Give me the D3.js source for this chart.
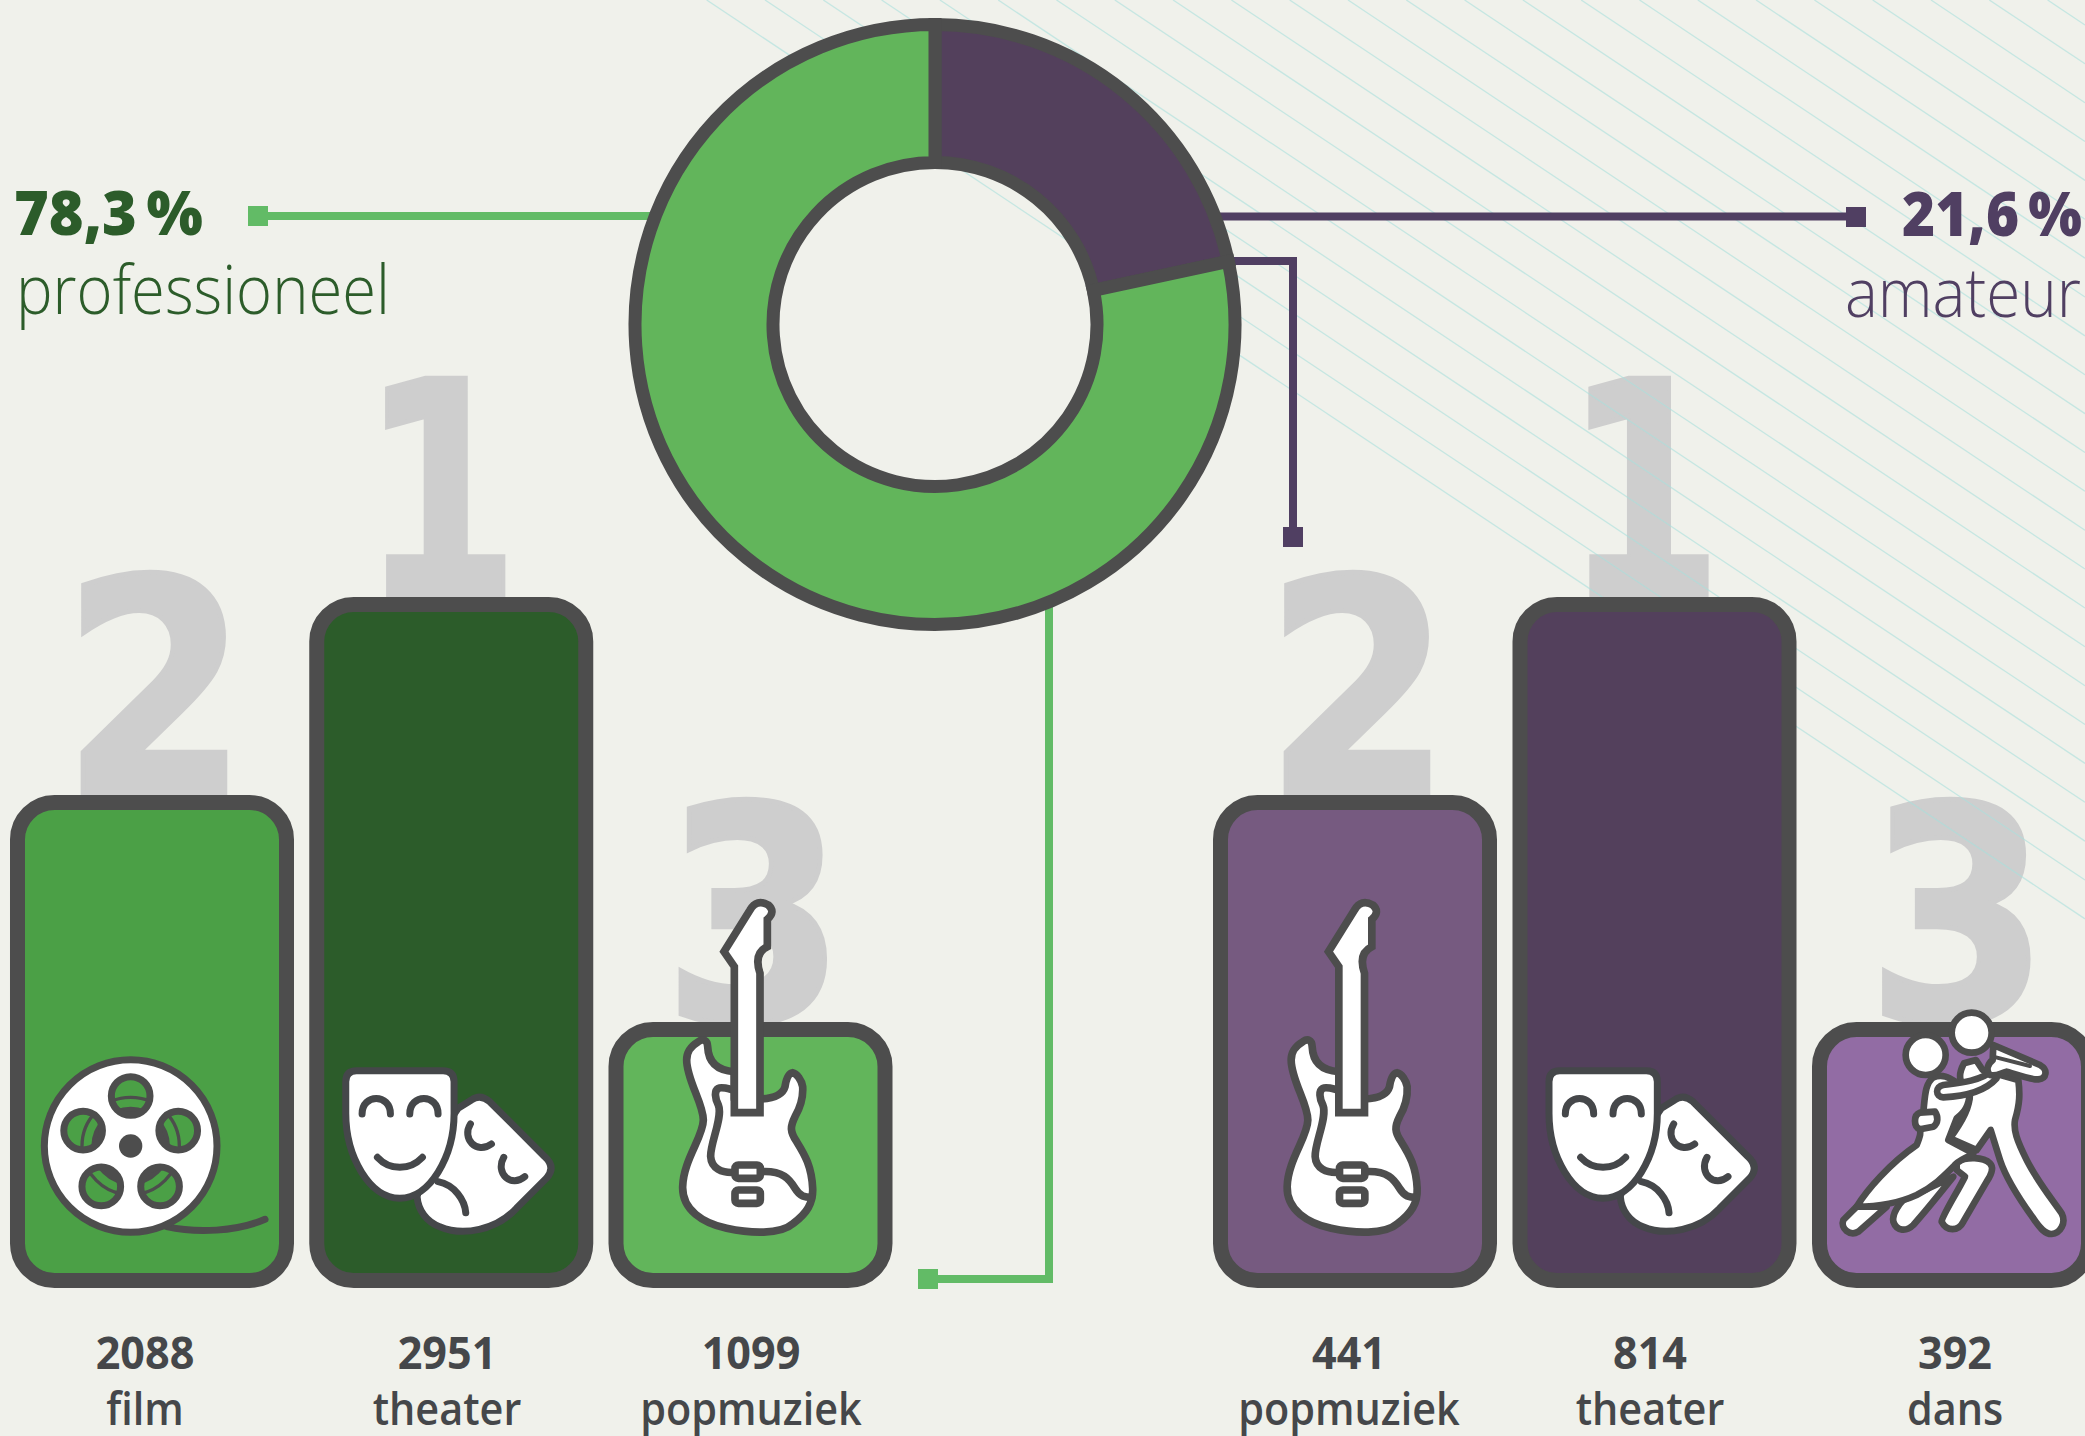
<!DOCTYPE html>
<html>
<head>
<meta charset="utf-8">
<script src="https://cdn.jsdelivr.net/npm/d3@7"></script>
<style>
  html, body { margin: 0; padding: 0; background: #f0f1eb; overflow: hidden; }
  text { font-family: "Open Sans", "Noto Sans", sans-serif; }
</style>
</head>
<body>
<div id="chart"></div>
<script>
// data
const shareNames = ["amateur", "professioneel"];
const shareValues = [21.6, 78.3];
const shareLabels = ["21,6 %", "78,3 %"];
const shareColors = ["#53405c", "#62b55b"];

const profCategories = ["film", "theater", "popmuziek"];
const profCounts = [2088, 2951, 1099];
const profRanks = [2, 1, 3];
const profColors = ["#4ba046", "#2c5c2a", "#62b55b"];

const amCategories = ["popmuziek", "theater", "dans"];
const amCounts = [441, 814, 392];
const amRanks = [2, 1, 3];
const amColors = ["#765a80", "#53405c", "#926ca4"];

const width = 2085;
const height = 1436;
const dark = "#4d4d4d";
const textDark = "#45474a";
const numeralGrey = "#cecece";
const profDark = "#2c5c2a";
const amDark = "#503f62";
const profLine = "#62bb66";
const amLine = "#503f62";

const svg = d3.select("#chart").append("svg")
  .attr("width", width).attr("height", height)
  .attr("viewBox", [0, 0, width, height])
  .style("display", "block");

svg.append("rect").attr("width", width).attr("height", height).attr("fill", "#f0f1eb");

// scales
const barBottom = 1280.5;
const barWidth = 269;
const xProf = d3.scalePoint().domain(d3.range(3)).range([152, 750.5]);
const xAm = d3.scalePoint().domain(d3.range(3)).range([1355, 1954]);
const yRank = d3.scaleOrdinal().domain([1, 2, 3]).range([604.5, 802.5, 1029.5]);
const numeralDx = d3.scaleOrdinal().domain([1, 2, 3]).range([-11, 3, 4]);
const numeralSx = d3.scaleOrdinal().domain([1, 2, 3]).range([0.76, 0.9, 0.88]);

const bars = [
  ...profCategories.map((c, i) => ({ cat: c, count: profCounts[i], rank: profRanks[i], color: profColors[i], x: xProf(i) })),
  ...amCategories.map((c, i) => ({ cat: c, count: amCounts[i], rank: amRanks[i], color: amColors[i], x: xAm(i) })),
];
const labelX = d3.scaleOrdinal().domain(d3.range(6)).range([145, 447, 751, 1349, 1650, 1955]);

// big rank numerals sit behind the bars
svg.append("g").selectAll("text").data(bars).enter().append("text")
  .attr("transform", (d) => `translate(${d.x + numeralDx(d.rank)},${yRank(d.rank) - 9}) scale(${numeralSx(d.rank)},1)`)
  .attr("text-anchor", "middle")
  .attr("font-size", 298)
  .attr("font-weight", 700)
  .attr("fill", numeralGrey)
  .attr("stroke", numeralGrey).attr("stroke-width", 5)
  .style("font-family", "'DejaVu Sans'")
  .text((d) => d.rank);

// thin diagonal hatch in the top right
const hatchStart = d3.range(706.7, width, 58.3);
svg.append("g").selectAll("line").data(hatchStart).enter().append("line")
  .attr("x1", (d) => d).attr("y1", 0)
  .attr("x2", width).attr("y2", (d) => (width - d) / 1.5)
  .attr("stroke", "#a9e0dc").attr("stroke-opacity", 0.6).attr("stroke-width", 1.3);

// leader lines
const cx = 935;
const cy = 324.5;
const leaders = svg.append("g").attr("fill", "none").attr("stroke-width", 8);
leaders.append("path").attr("stroke", profLine).attr("d", `M264,216H${cx - 280}`);
leaders.append("path").attr("stroke", amLine).attr("d", `M${cx + 270},216.5H1850`);
leaders.append("path").attr("stroke", amLine).attr("d", `M${cx + 280},261H1293V532`);
leaders.append("path").attr("stroke", profLine).attr("d", `M1049,${cy + 270}V1279H930`);
const ends = [
  [248, 206, 20, 20, profLine],
  [1846, 207, 20, 20, amLine],
  [1283, 527, 20, 20, amLine],
  [918, 1269, 20, 20, profLine],
];
svg.append("g").selectAll("rect").data(ends).enter().append("rect")
  .attr("x", (d) => d[0]).attr("y", (d) => d[1])
  .attr("width", (d) => d[2]).attr("height", (d) => d[3])
  .attr("fill", (d) => d[4]);

// donut
const pie = d3.pie().sort(null)(shareValues);
const arc = d3.arc().innerRadius(162).outerRadius(300);
svg.append("g").attr("transform", `translate(${cx},${cy})`)
  .selectAll("path").data(pie).enter().append("path")
  .attr("d", arc)
  .attr("fill", (d, i) => shareColors[i])
  .attr("stroke", dark).attr("stroke-width", 13);

// bars
svg.append("g").selectAll("rect").data(bars).enter().append("rect")
  .attr("x", (d) => d.x - barWidth / 2)
  .attr("y", (d) => yRank(d.rank))
  .attr("width", barWidth)
  .attr("height", (d) => barBottom - yRank(d.rank))
  .attr("rx", 37).attr("ry", 37)
  .attr("fill", (d) => d.color)
  .attr("stroke", dark).attr("stroke-width", 15);

// icons, paths are in 3x crop units hence the scale
function iconGroup(d, dx, dy, sw) {
  return svg.append("g")
    .attr("transform", `translate(${d.x + dx},${barBottom + dy}) scale(${1 / 3})`)
    .attr("stroke", dark).attr("stroke-width", sw)
    .attr("stroke-linejoin", "round").attr("stroke-linecap", "round");
}

function drawReel(d) {
  const g = iconGroup(d, -122, -230.5, 21);
  g.append("path").attr("fill", "none")
    .attr("d", "M410,530C500,550,620,545,705,508");
  g.append("circle").attr("cx", 302).attr("cy", 288).attr("r", 259).attr("fill", "#fff");
  g.append("circle").attr("cx", 302).attr("cy", 288).attr("r", 35).attr("fill", dark).attr("stroke", "none");
  d3.range(5).forEach((k) => {
    const a = (k * 72 * Math.PI) / 180;
    const hx = 302 + 150 * Math.sin(a);
    const hy = 288 - 150 * Math.cos(a);
    const id = "reelhole" + k;
    g.append("clipPath").attr("id", id).append("circle").attr("cx", hx).attr("cy", hy).attr("r", 58);
    g.append("circle").attr("cx", hx).attr("cy", hy).attr("r", 58).attr("fill", d.color).attr("stroke", "none");
    const clip = g.append("g").attr("clip-path", `url(#${id})`);
    clip.append("circle").attr("cx", 302).attr("cy", 288).attr("r", 146).attr("fill", "none").attr("stroke-width", 10);
    clip.append("circle").attr("cx", 302).attr("cy", 288).attr("r", 118).attr("fill", dark).attr("stroke", "none");
    g.append("circle").attr("cx", hx).attr("cy", hy).attr("r", 58).attr("fill", "none");
  });
}

function drawMasks(d) {
  const g = iconGroup(d, -121.5, -230.5, 21).attr("stroke", textDark);
  g.append("path").attr("fill", "#fff")
    .attr("d", "M385,175L425,150Q452,130,480,155L645,320Q680,352,650,385L560,475C500,540,400,560,330,530C290,515,265,480,262,440L300,300Z");
  g.append("path").attr("fill", "none").attr("d", "M325,395C375,405,405,450,408,488");
  g.append("path").attr("fill", "none").attr("d", "M422,222C395,265,440,315,485,282");
  g.append("path").attr("fill", "none").attr("d", "M522,322C495,370,545,415,585,380");
  g.append("path").attr("fill", "#fff")
    .attr("d", "M80,62H340Q373,62,373,95V190C373,320,300,445,210,445C120,445,48,320,48,190V95Q48,62,80,62Z");
  g.append("path").attr("fill", "none").attr("d", "M97,192C97,130,182,130,182,192");
  g.append("path").attr("fill", "none").attr("d", "M240,192C240,130,325,130,325,192");
  g.append("path").attr("fill", "none").attr("d", "M143,322C180,362,240,362,278,322");
}

function drawGuitar(d) {
  const g = iconGroup(d, -110.5, -420.5, 23);
  g.append("path").attr("fill", "#fff")
    .attr("d", "M283,635C235,632,205,610,203,560C202,540,190,535,175,545C150,560,140,575,140,600C140,660,190,730,190,780C190,830,130,900,128,980C126,1050,190,1090,260,1105C330,1120,420,1125,460,1090C500,1060,520,1030,518,985C515,920,495,885,470,845C450,815,450,800,465,770C485,735,490,710,488,680C485,660,470,640,458,638C445,640,438,660,435,680C428,705,400,715,360,717L283,717Z");
  g.append("path").attr("fill", "none")
    .attr("d", "M283,690C260,685,245,680,235,685C222,692,225,715,235,735C250,770,210,850,212,890C214,925,245,940,285,937M360,935C430,930,450,960,465,985C480,1010,495,1012,515,1012");
  g.append("path").attr("fill", "#fff").attr("stroke-linejoin", "miter")
    .attr("d", "M283,758V320L252,275L330,150Q350,115,385,135Q408,155,382,178V260Q340,280,360,340V758Z");
  g.selectAll("rect.pickup").data([915, 990]).enter().append("rect")
    .attr("x", 285).attr("y", (y) => y).attr("width", 76).attr("height", 40).attr("rx", 10)
    .attr("fill", "#fff");
}

function drawDance(d) {
  const g = iconGroup(d, -154, -300.5, 20);
  const shapes = [
    // back foot and legs of the woman
    "M260,680L175,755C150,770,120,745,130,720L170,680Z",
    "M460,590C420,640,380,690,340,735C320,755,290,755,280,725C275,700,300,670,310,660Z",
    "M470,545C500,530,550,530,570,550C585,565,570,590,560,605L490,725C475,755,440,755,425,725C425,710,470,640,495,590L470,570Z",
    // man
    "M492,250L528,240L548,270L655,300C660,340,660,370,645,420C640,450,650,480,680,540C710,600,750,650,785,700C800,730,780,760,755,762C735,762,720,745,700,715C660,660,620,600,600,540L572,450L530,510L450,475C490,420,510,380,510,340C480,310,470,290,492,250Z",
    // woman
    "M400,292C430,280,450,295,475,310L510,340C505,380,495,395,470,415L445,480L520,520C500,535,475,540,460,560C430,590,400,620,350,645C300,668,230,680,170,680C200,630,270,550,350,495C360,470,365,455,358,440L370,395C375,350,375,310,400,292Z",
    // arms and hand
    "M430,315C470,310,540,305,580,270L590,295C550,340,480,350,430,352C405,350,405,320,430,315Z",
    "M360,398L405,395C415,410,415,430,400,440L360,448C340,440,340,405,360,398Z",
    "M580,195L720,255C745,270,740,295,715,298C690,300,640,280,620,275C600,280,590,290,570,285C555,270,565,250,578,240Z",
  ];
  g.selectAll("path.shape").data(shapes).enter().append("path").attr("fill", "#fff").attr("d", (s) => s);
  g.append("path").attr("fill", "none").attr("stroke-width", 12).attr("d", "M588,232L690,258");
  g.append("circle").attr("cx", 377).attr("cy", 225).attr("r", 60).attr("fill", "#fff");
  g.append("circle").attr("cx", 515).attr("cy", 158).attr("r", 60).attr("fill", "#fff");
}

const icons = { film: drawReel, theater: drawMasks, popmuziek: drawGuitar, dans: drawDance };
bars.forEach((d) => icons[d.cat](d));

// count and category labels, squeezed a little like the original face
svg.append("g").selectAll("text").data(bars).enter().append("text")
  .attr("transform", (d, i) => `translate(${labelX(i)},1369) scale(0.98,1)`)
  .attr("text-anchor", "middle").attr("font-size", 44).attr("font-weight", 700)
  .attr("fill", textDark).text((d) => d.count);
svg.append("g").selectAll("text").data(bars).enter().append("text")
  .attr("transform", (d, i) => `translate(${labelX(i)},1425) scale(0.9,1)`)
  .attr("text-anchor", "middle").attr("font-size", 46).attr("font-weight", 600)
  .attr("fill", textDark).text((d) => d.cat);

// share labels
svg.append("text").attr("x", 14).attr("y", 235)
  .attr("font-size", 62).attr("font-weight", 800).attr("word-spacing", -6)
  .attr("textLength", 189).attr("lengthAdjust", "spacingAndGlyphs")
  .attr("fill", profDark).text(shareLabels[1]);
svg.append("text").attr("x", 16).attr("y", 314)
  .attr("font-size", 68).attr("font-weight", 300)
  .attr("textLength", 374).attr("lengthAdjust", "spacingAndGlyphs")
  .attr("fill", profDark).text(shareNames[1]);
svg.append("text").attr("x", 1902).attr("y", 236)
  .attr("font-size", 62).attr("font-weight", 800).attr("word-spacing", -6)
  .attr("textLength", 180).attr("lengthAdjust", "spacingAndGlyphs")
  .attr("fill", amDark).text(shareLabels[0]);
svg.append("text").attr("x", 1845).attr("y", 317)
  .attr("font-size", 68).attr("font-weight", 300)
  .attr("textLength", 236).attr("lengthAdjust", "spacingAndGlyphs")
  .attr("fill", amDark).text(shareNames[0]);
</script>
</body>
</html>
